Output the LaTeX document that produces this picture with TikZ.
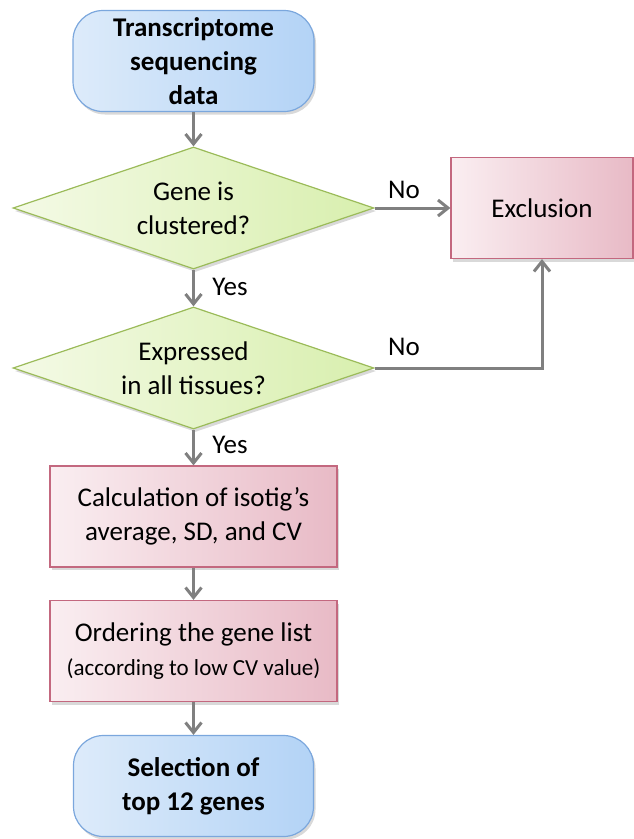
\documentclass[tikz,border=0pt]{standalone}
\usepackage{fontspec}
\setmainfont{Carlito}
\usetikzlibrary{shapes.geometric,arrows.meta,shadows}
\definecolor{bluefillA}{HTML}{DDEBFA}
\definecolor{bluefillB}{HTML}{B3D3F6}
\definecolor{blueline}{HTML}{7BA7DD}
\definecolor{greenA}{HTML}{F4FAE6}
\definecolor{greenB}{HTML}{D8EFAE}
\definecolor{greenline}{HTML}{9BBB59}
\definecolor{pinkA}{HTML}{FAEEF1}
\definecolor{pinkB}{HTML}{E8BAC6}
\definecolor{pinkline}{HTML}{C3687F}
\definecolor{arrowgray}{HTML}{808080}
\begin{document}
\begin{tikzpicture}[x=1pt,y=-1pt,
  every node/.style={font=\fontsize{27}{34}\selectfont},
  shadowed/.style={drop shadow={opacity=0.3,shadow xshift=2pt,shadow yshift=-3pt}},
  terminal/.style={shadowed,draw=blueline,line width=1.2pt,rounded corners=30pt,
    left color=bluefillA,right color=bluefillB,minimum width=241pt,minimum height=101pt,
    align=center,inner sep=0pt,font=\fontsize{27}{34}\selectfont\bfseries},
  decision/.style={shadowed,diamond,draw=greenline,line width=1.2pt,left color=greenA,right color=greenB,
    minimum width=361pt,minimum height=122pt,inner sep=0pt},
  process/.style={shadowed,draw=pinkline,line width=1.2pt,left color=pinkA,right color=pinkB,
    minimum height=101pt,align=center,inner sep=0pt},
  flow/.style={draw=arrowgray,line width=3pt,-{Straight Barb[length=10pt,width=16pt]}},
  lbl/.style={inner sep=0pt,font=\fontsize{27}{34}\selectfont}
]
\useasboundingbox (0,0) rectangle (634,839);

\node[terminal] (start) at (193.5,61) {Transcriptome\\sequencing\\data};
\node[decision,label={[align=center,lbl]center:Gene is\\clustered?}] (d1) at (193.5,208) {};
\node[process,minimum width=182pt] (excl) at (542,208) {Exclusion};
\node[decision,label={[align=center,lbl]center:Expressed\\in all tissues?}] (d2) at (193.5,368) {};
\node[process,minimum width=287pt] (calc) at (193.5,516.5) {Calculation of isotig’s\\average, SD, and CV};
\node[process,minimum width=287pt] (order) at (193.5,651) {Ordering the gene list\\{\fontsize{23}{32}\selectfont(according to low CV value)}};
\node[terminal,minimum width=240pt] (stop) at (193.5,786) {Selection of\\top 12 genes};

\node[lbl] (no1) at (404,190) {No};
\node[lbl] (yes1) at (230,287) {Yes};
\node[lbl] (no2) at (404,347) {No};
\node[lbl] (yes2) at (230,445) {Yes};

\draw[flow] (start) -- (d1);
\draw[flow] (d1) -- (excl);
\draw[flow] (d1) -- (d2);
\draw[flow] (d2.east) -| (excl.south);
\draw[flow] (d2) -- (calc);
\draw[flow] (calc) -- (order);
\draw[flow] (order) -- (stop);
\end{tikzpicture}
\end{document}
